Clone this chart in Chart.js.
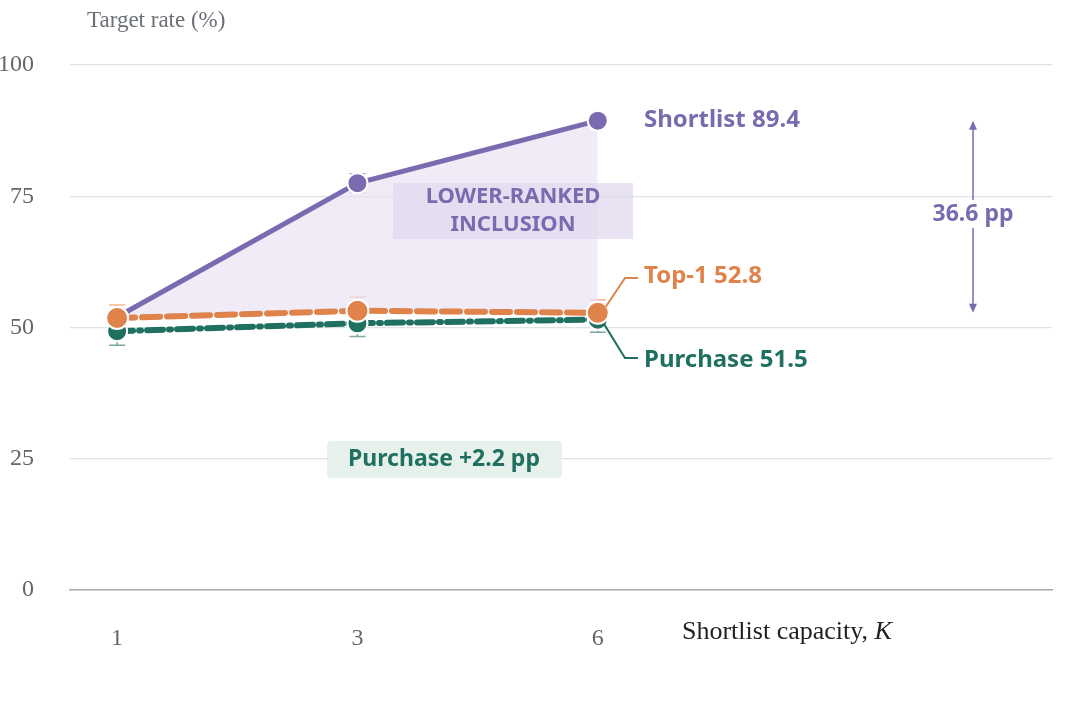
<!DOCTYPE html>
<html>
<head>
<meta charset="utf-8">
<script src="https://cdn.jsdelivr.net/npm/chart.js@4"></script>
<style>
  html, body { margin: 0; background: #fff; }
  #wrap { width: 1080px; height: 725px; }
</style>
</head>
<body>
<div id="wrap"><canvas id="chart"></canvas></div>
<script>
// Chart data
const capacities = ["1", "3", "6"];
const shortlistRate = [52.0, 77.5, 89.4];
const top1Rate = [51.8, 53.2, 52.8];
const purchaseRate = [49.3, 50.8, 51.5];
const shortlistErr = [1.5, 1.8, 1.2];
const top1Err = [2.5, 2.6, 2.5];
const purchaseErr = [2.7, 2.5, 2.4];
const yTicks = [0, 25, 50, 75, 100];

const PURPLE = "#7a6bb1";
const ORANGE = "#df834b";
const GREEN = "#1f7060";
const SERIF = "'Liberation Serif', 'DejaVu Serif', serif";
const SANS = "'Noto Sans', 'Open Sans', sans-serif";

const toPoints = (vals) => vals.map((v, i) => ({ x: i, y: v }));

// Error bars drawn from the data arrays
const errorBars = {
  id: "errorBars",
  beforeDatasetsDraw(chart) {
    const { ctx, scales } = chart;
    const sets = [[shortlistRate, shortlistErr, PURPLE], [top1Rate, top1Err, ORANGE], [purchaseRate, purchaseErr, GREEN]];
    ctx.save();
    ctx.globalAlpha = 0.6;
    ctx.lineWidth = 1.5;
    sets.forEach(([vals, errs, color]) => {
      ctx.strokeStyle = color;
      vals.forEach((v, i) => {
        const x = scales.x.getPixelForValue(i);
        const y1 = scales.y.getPixelForValue(v - errs[i]);
        const y2 = scales.y.getPixelForValue(v + errs[i]);
        ctx.beginPath();
        ctx.moveTo(x, y1); ctx.lineTo(x, y2);
        ctx.moveTo(x - 8, y1); ctx.lineTo(x + 8, y1);
        ctx.moveTo(x - 8, y2); ctx.lineTo(x + 8, y2);
        ctx.stroke();
      });
    });
    ctx.restore();
  },
};

// Text labels and callouts
const annotations = {
  id: "annotations",
  afterDraw(chart) {
    const { ctx, scales } = chart;
    const xs = scales.x, ys = scales.y;
    const last = capacities.length - 1;
    const xl = xs.getPixelForValue(last);
    ctx.save();
    ctx.textBaseline = "middle";

    // axis titles
    ctx.fillStyle = "#6b7077";
    ctx.font = "23px " + SERIF;
    ctx.textAlign = "left";
    ctx.fillText("Target rate (%)", 87, 21);
    ctx.fillStyle = "#222";
    ctx.font = "26px " + SERIF;
    ctx.fillText("Shortlist capacity, ", 682, 632);
    const w = ctx.measureText("Shortlist capacity, ").width;
    ctx.font = "italic 26px " + SERIF;
    ctx.fillText("K", 682 + w, 632);

    // end labels
    ctx.font = "bold 24px " + SANS;
    ctx.fillStyle = PURPLE;
    ctx.fillText("Shortlist " + shortlistRate[last].toFixed(1), 644, ys.getPixelForValue(shortlistRate[last]));
    ctx.fillStyle = ORANGE;
    ctx.fillText("Top-1 " + top1Rate[last].toFixed(1), 644, 276);
    ctx.fillStyle = GREEN;
    ctx.fillText("Purchase " + purchaseRate[last].toFixed(1), 644, 360);

    // leader lines
    ctx.lineWidth = 2;
    ctx.strokeStyle = ORANGE;
    ctx.beginPath();
    ctx.moveTo(xl + 8, ys.getPixelForValue(top1Rate[last]) - 6);
    ctx.lineTo(625, 278); ctx.lineTo(638, 278);
    ctx.stroke();
    ctx.strokeStyle = GREEN;
    ctx.beginPath();
    ctx.moveTo(xl + 6, ys.getPixelForValue(purchaseRate[last]) + 4);
    ctx.lineTo(625, 358); ctx.lineTo(638, 358);
    ctx.stroke();

    // gap arrow
    const yTop = ys.getPixelForValue(shortlistRate[last]);
    const yBot = ys.getPixelForValue(top1Rate[last]);
    const ax = 973;
    ctx.strokeStyle = PURPLE;
    ctx.fillStyle = PURPLE;
    ctx.lineWidth = 1.5;
    ctx.beginPath(); ctx.moveTo(ax, yTop + 4); ctx.lineTo(ax, yBot - 4); ctx.stroke();
    [[yTop, 1], [yBot, -1]].forEach(([y, d]) => {
      ctx.beginPath();
      ctx.moveTo(ax, y); ctx.lineTo(ax - 4, y + 9 * d); ctx.lineTo(ax + 4, y + 9 * d);
      ctx.closePath(); ctx.fill();
    });
    const gap = (shortlistRate[last] - top1Rate[last]).toFixed(1) + " pp";
    ctx.font = "bold 23px " + SANS;
    ctx.textAlign = "center";
    const gw = ctx.measureText(gap).width;
    ctx.fillStyle = "#fff";
    ctx.fillRect(ax - gw / 2 - 4, 200, gw + 8, 28);
    ctx.fillStyle = PURPLE;
    ctx.fillText(gap, ax, 214);

    // region label
    ctx.fillStyle = "rgba(225,216,238,0.75)";
    ctx.fillRect(393, 183, 240, 56);
    ctx.fillStyle = PURPLE;
    ctx.font = "bold 22px " + SANS;
    ctx.fillText("LOWER-RANKED", 513, 197);
    ctx.fillText("INCLUSION", 513, 225);

    // purchase gain box
    const gain = (purchaseRate[last] - purchaseRate[0]).toFixed(1);
    ctx.fillStyle = "#e6f1ec";
    ctx.beginPath();
    ctx.roundRect(327, 441, 235, 37, 4);
    ctx.fill();
    ctx.fillStyle = GREEN;
    ctx.font = "bold 23px " + SANS;
    ctx.fillText("Purchase +" + gain + " pp", 444, 459);
    ctx.restore();
  },
};

const ctx = document.getElementById("chart").getContext("2d");
new Chart(ctx, {
  type: "line",
  data: {
    datasets: [
      {
        label: "Shortlist",
        data: toPoints(shortlistRate),
        borderColor: PURPLE,
        backgroundColor: "rgba(233,226,243,0.7)",
        borderWidth: 5,
        fill: "+1",
        pointRadius: 10,
        pointBackgroundColor: PURPLE,
        pointBorderColor: "#fff",
        pointBorderWidth: 2,
        order: 3,
      },
      {
        label: "Top-1",
        data: toPoints(top1Rate),
        borderColor: ORANGE,
        borderWidth: 6,
        borderDash: [18, 7],
        borderCapStyle: "round",
        fill: false,
        pointRadius: 11,
        pointBackgroundColor: ORANGE,
        pointBorderColor: "#fff",
        pointBorderWidth: 2,
        order: 1,
      },
      {
        label: "Purchase",
        data: toPoints(purchaseRate),
        borderColor: GREEN,
        borderWidth: 6,
        borderDash: [16, 6, 2, 6],
        borderCapStyle: "round",
        fill: false,
        pointRadius: 10,
        pointBackgroundColor: GREEN,
        pointBorderColor: "#fff",
        pointBorderWidth: 2,
        order: 2,
      },
    ],
  },
  options: {
    responsive: true,
    maintainAspectRatio: false,
    animation: false,
    layout: { padding: { top: 65, right: 28, left: 0, bottom: 0 } },
    plugins: { legend: { display: false }, tooltip: { enabled: false } },
    scales: {
      x: {
        type: "linear",
        min: -0.196,
        max: 3.89,
        afterBuildTicks: (s) => { s.ticks = capacities.map((_, i) => ({ value: i })); },
        afterFit: (s) => { s.height = 135; },
        ticks: {
          callback: (v) => capacities[v],
          padding: 26,
          color: "#666",
          font: { family: SERIF, size: 24 },
        },
        grid: { display: false },
        border: { color: "#a7abb0", width: 1.5 },
      },
      y: {
        min: 0,
        max: 100,
        afterBuildTicks: (s) => { s.ticks = yTicks.map((v) => ({ value: v })); },
        afterFit: (s) => { s.width = 70; },
        ticks: {
          padding: 36,
          color: "#666",
          font: { family: SERIF, size: 24 },
        },
        grid: { color: "#dfe1e4", lineWidth: 1.2, drawTicks: false },
        border: { display: false },
      },
    },
  },
  plugins: [errorBars, annotations],
});
</script>
</body>
</html>
